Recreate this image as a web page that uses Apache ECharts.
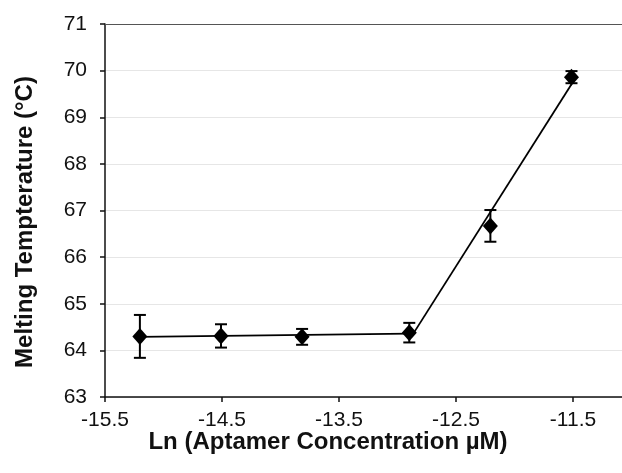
<!DOCTYPE html>
<html>
<head>
<meta charset="utf-8">
<script src="https://cdn.jsdelivr.net/npm/echarts@6/dist/echarts.min.js"></script>
<style>
  html, body { margin: 0; padding: 0; background: #fff; }
  #chart { width: 622px; height: 473px; }
</style>
</head>
<body>
<div id="chart"></div>
<script>
// ln of aptamer concentration (0.25, 0.5, 1, 2.5, 5, 10 µM)
const lnConc = [-15.2018, -14.5087, -13.8155, -12.8992, -12.2061, -11.5129];
// mean melting temperature (°C)
const meltTemp = [64.30, 64.31, 64.29, 64.38, 66.67, 69.86];
// standard deviation of each mean
const meltErr = [0.46, 0.25, 0.17, 0.21, 0.34, 0.13];
// trend lines: flat region and rising region
const flatFit = [[-15.2018, 64.29], [-12.8992, 64.36]];
const riseFit = [[-12.88, 64.30], [-11.5129, 69.71]];
// axis ticks
const yTicks = { min: 63, max: 71, step: 1 };
const xTicks = { min: -15.5, max: -11.0, step: 1 };

const points = lnConc.map((x, i) => [x, meltTemp[i]]);
const errData = lnConc.map((x, i) => [x, meltTemp[i] - meltErr[i], meltTemp[i] + meltErr[i]]);

const chart = echarts.init(document.getElementById('chart'));
const font = 'Liberation Sans, Arial, sans-serif';

chart.setOption({
  animation: false,
  backgroundColor: '#fff',
  grid: {
    left: 105, top: 24, width: 526.5, bottom: 76,
    outerBoundsMode: 'none', containLabel: false
  },
  xAxis: [
    {
      type: 'value',
      min: xTicks.min, max: xTicks.max, interval: xTicks.step,
      axisLine: { lineStyle: { color: '#111', width: 1.5 } },
      axisTick: { show: true, length: 5, lineStyle: { color: '#111', width: 1.5 } },
      axisLabel: {
        color: '#111', fontSize: 21, fontFamily: font, margin: 13,
        showMaxLabel: false,
        formatter: v => v.toFixed(1)
      },
      splitLine: { show: false }
    },
    {
      // plain frame line along the top of the plot
      type: 'value', position: 'top',
      min: xTicks.min, max: xTicks.max, interval: xTicks.step,
      axisLine: { show: true, lineStyle: { color: '#555', width: 1.2 } },
      axisTick: { show: false },
      axisLabel: { show: false },
      splitLine: { show: false }
    }
  ],
  yAxis: {
    type: 'value',
    min: yTicks.min, max: yTicks.max, interval: yTicks.step,
    axisLine: { show: true, lineStyle: { color: '#111', width: 1.5 } },
    axisTick: { show: true, length: 5, lineStyle: { color: '#111', width: 1.5 } },
    axisLabel: { color: '#111', fontSize: 21, fontFamily: font, margin: 18 },
    splitLine: { show: true, lineStyle: { color: '#e6e6e6', width: 1 } }
  },
  graphic: [
    {
      type: 'text',
      x: 328, y: 442,
      style: {
        text: 'Ln (Aptamer Concentration µM)',
        fill: '#111', fontSize: 24, fontWeight: 'bold', fontFamily: font,
        align: 'center', verticalAlign: 'middle'
      }
    },
    {
      type: 'text',
      x: 25, y: 222,
      rotation: Math.PI / 2,
      style: {
        text: 'Melting Tempterature (°C)',
        fill: '#111', fontSize: 24, fontWeight: 'bold', fontFamily: font,
        align: 'center', verticalAlign: 'middle'
      }
    }
  ],
  series: [
    {
      type: 'line', data: flatFit, symbol: 'none',
      lineStyle: { color: '#000', width: 1.8 }, z: 2
    },
    {
      type: 'line', data: riseFit, symbol: 'none',
      lineStyle: { color: '#000', width: 1.8 }, z: 2
    },
    {
      type: 'custom',
      data: errData,
      z: 3,
      renderItem: function (params, api) {
        const x = api.value(0);
        const lo = api.coord([x, api.value(1)]);
        const hi = api.coord([x, api.value(2)]);
        const half = 6;
        const st = { stroke: '#000', lineWidth: 2 };
        return {
          type: 'group',
          children: [
            { type: 'line', shape: { x1: lo[0], y1: lo[1], x2: hi[0], y2: hi[1] }, style: st },
            { type: 'line', shape: { x1: lo[0] - half, y1: lo[1], x2: lo[0] + half, y2: lo[1] }, style: st },
            { type: 'line', shape: { x1: hi[0] - half, y1: hi[1], x2: hi[0] + half, y2: hi[1] }, style: st }
          ]
        };
      }
    },
    {
      type: 'scatter', data: points,
      symbol: 'diamond', symbolSize: [15, 17],
      itemStyle: { color: '#000', opacity: 1 }, z: 4
    }
  ]
});
</script>
</body>
</html>
